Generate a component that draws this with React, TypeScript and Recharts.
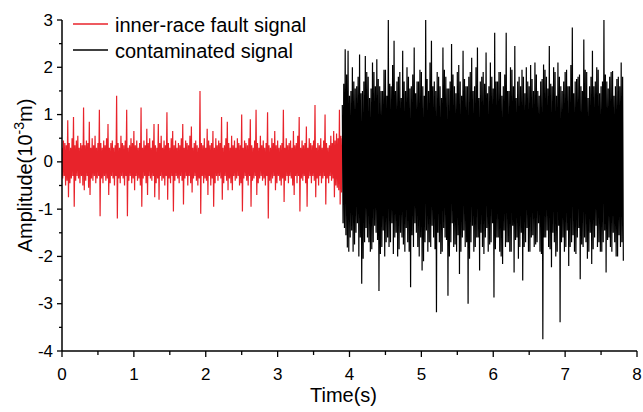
import React from 'react';
import { LineChart, Line, XAxis, YAxis, Legend } from 'recharts';

const SAMPLE_STEP = 0.01; // seconds between samples
const FAULT_START = 0; // s
const CONTAMINATED_START = 3.9; // s

const SERIES_NAMES = ['inner-race fault signal', 'contaminated signal'];
const SERIES_COLORS = ['#e8232b', '#000000'];

// inner-race fault signal (10^-3 m), 0 .. 3.90 s
const innerRaceFault = [
  0.3, -0.35, 0.45, -0.3, 0.4, -0.5, 0.35, -0.4, 0.88, -0.75,
  0.4, -0.45, 0.3, -0.35, 0.5, -0.3, 0.95, -0.95, 0.35, -0.4,
  0.45, -0.3, 0.55, -0.35, 0.3, -0.45, 0.4, -0.3, 0.35, -0.5,
  1.15, -0.6, 0.35, -0.4, 0.45, -0.3, 0.4, -0.55, 0.85, -0.7,
  0.3, -0.35, 0.5, -0.4, 0.35, -0.3, 0.55, -0.45, 0.3, -0.35,
  0.4, -0.3, 1.1, -1.15, 0.4, -0.35, 0.3, -0.45, 0.45, -0.3,
  0.35, -0.4, 0.5, -0.35, 0.8, -0.7, 0.3, -0.45, 0.4, -0.3,
  0.45, -0.35, 0.3, -0.5, 0.35, -0.3, 1.4, -1.2, 0.4, -0.35,
  0.3, -0.45, 0.55, -0.3, 0.4, -0.35, 0.35, -0.5, 0.45, -0.3,
  1.1, -1.15, 0.3, -0.4, 0.35, -0.3, 0.5, -0.45, 0.4, -0.35,
  0.65, -0.6, 0.35, -0.3, 0.45, -0.4, 0.3, -0.35, 0.4, -0.5,
  1.15, -0.95, 0.3, -0.35, 0.45, -0.3, 0.35, -0.45, 0.7, -0.7,
  0.4, -0.3, 0.5, -0.35, 0.3, -0.4, 0.45, -0.3, 0.8, -0.75,
  0.35, -0.45, 0.3, -0.35, 0.8, -0.8, 0.4, -0.3, 0.55, -0.4,
  0.3, -0.35, 0.45, -0.5, 0.35, -0.3, 1.05, -0.8, 0.4, -0.35,
  0.3, -0.45, 0.5, -0.3, 0.65, -1.05, 0.35, -0.4, 0.45, -0.3,
  0.3, -0.35, 0.4, -0.45, 0.35, -0.3, 0.5, -0.4, 0.8, -0.9,
  0.3, -0.35, 0.45, -0.3, 0.4, -0.5, 0.35, -0.3, 0.55, -0.45,
  0.75, -0.65, 0.3, -0.35, 0.4, -0.3, 0.45, -0.4, 0.35, -0.5,
  0.3, -0.35, 1.5, -1.1, 0.4, -0.3, 0.35, -0.45, 0.5, -0.35,
  0.3, -0.4, 0.7, -0.7, 0.45, -0.3, 0.35, -0.5, 0.4, -0.35,
  0.65, -0.95, 0.3, -0.45, 0.5, -0.3, 0.35, -0.4, 0.45, -0.3,
  0.4, -0.35, 0.95, -0.8, 0.3, -0.45, 0.35, -0.3, 0.5, -0.4,
  0.85, -0.6, 0.4, -0.35, 0.3, -0.45, 0.55, -0.6, 0.35, -0.3,
  0.45, -0.4, 0.3, -0.35, 0.5, -0.3, 0.4, -0.5, 0.35, -0.45,
  1.0, -1.05, 0.3, -0.35, 0.45, -0.3, 0.4, -0.4, 0.35, -0.5,
  0.5, -0.3, 0.9, -0.95, 0.35, -0.4, 0.3, -0.35, 0.45, -0.3,
  1.1, -0.7, 0.4, -0.45, 0.3, -0.35, 0.55, -0.3, 0.35, -0.4,
  0.45, -0.35, 0.3, -0.5, 0.4, -0.3, 1.05, -1.2, 0.35, -0.4,
  0.3, -0.45, 0.5, -0.35, 0.4, -0.3, 0.65, -0.6, 0.35, -0.45,
  0.45, -0.3, 0.3, -0.4, 0.35, -0.5, 0.4, -0.35, 1.1, -0.85,
  0.3, -0.4, 0.5, -0.3, 0.35, -0.45, 0.4, -0.3, 0.45, -0.35,
  0.3, -0.5, 0.65, -0.7, 0.35, -0.3, 0.4, -0.45, 0.55, -0.3,
  0.95, -1.05, 0.3, -0.35, 0.45, -0.4, 0.35, -0.3, 0.4, -0.45,
  0.75, -0.95, 0.3, -0.35, 0.5, -0.3, 0.4, -0.45, 0.35, -0.3,
  0.45, -0.4, 1.2, -0.75, 0.3, -0.35, 0.4, -0.5, 0.35, -0.3,
  0.5, -0.45, 0.3, -0.35, 0.45, -0.3, 1.0, -0.9, 0.4, -0.35,
  0.3, -0.45, 0.35, -0.3, 0.55, -0.4, 0.4, -0.35, 0.65, -0.75,
  0.45, -0.5, 0.6, -0.55, 0.5, -0.6, 1.1, -0.9, 0.55, -0.65,
  0.5,
];

// contaminated signal (10^-3 m), 3.90 .. 7.81 s
const contaminatedSignal = [
  1.2, -1.3, 1.65, -1.4, 2.38, -1.55, 1.85, -1.81, 2.35, -1.9, 1.4, -1.6,
  1.5, -1.45, 2.0, -1.9, 1.7, -1.75, 1.55, -1.5, 1.6, -1.3, 1.8, -2.0,
  2.27, -1.6, 1.45, -2.58, 1.5, -2.05, 1.7, -1.7, 2.24, -1.4, 1.9, -1.6,
  1.8, -1.7, 1.35, -1.9, 1.55, -1.85, 2.1, -1.7, 1.9, -1.35, 1.6, -1.5,
  2.17, -1.65, 1.75, -2.73, 1.6, -1.95, 1.5, -1.8, 1.5, -1.45, 1.95, -2.0,
  1.95, -1.7, 1.4, -1.6, 3.0, -1.8, 1.65, -1.7, 1.6, -1.3, 2.05, -1.95,
  2.56, -1.6, 1.5, -1.5, 1.7, -2.0, 1.8, -1.85, 1.9, -1.5, 1.35, -1.6,
  2.35, -1.75, 1.7, -1.9, 1.5, -1.4, 2.0, -1.7, 1.8, -1.9, 1.55, -2.65,
  1.6, -1.55, 1.85, -1.8, 2.42, -1.3, 1.45, -1.5, 1.7, -1.8, 1.7, -2.0,
  1.95, -1.6, 1.9, -2.3, 1.6, -2.1, 1.4, -1.7, 3.0, -1.45, 1.75, -1.9,
  1.5, -1.7, 2.1, -1.8, 2.56, -1.35, 1.6, -1.6, 1.7, -1.85, 1.5, -3.18,
  1.9, -1.5, 1.8, -1.7, 1.6, -1.95, 1.35, -1.9, 2.42, -1.4, 1.95, -1.6,
  1.8, -1.65, 1.55, -2.83, 1.55, -2.0, 1.7, -1.7, 2.49, -1.3, 1.85, -1.8,
  1.6, -1.75, 1.45, -1.9, 1.9, -1.55, 2.05, -2.37, 1.7, -1.9, 1.4, -1.6,
  2.35, -1.45, 1.75, -1.8, 1.6, -1.7, 1.6, -3.0, 1.8, -2.05, 1.9, -1.7,
  2.2, -1.35, 1.5, -1.9, 1.6, -1.8, 2.0, -1.6, 2.42, -1.6, 1.35, -2.3,
  1.7, -1.5, 1.8, -1.8, 1.9, -1.95, 1.65, -1.6, 2.31, -1.4, 1.45, -1.9,
  1.6, -1.75, 2.1, -1.7, 1.8, -1.3, 1.55, -2.87, 2.73, -1.85, 1.7, -1.6,
  1.7, -1.6, 1.9, -1.9, 1.9, -2.0, 1.4, -2.16, 1.6, -1.45, 1.85, -1.8,
  2.73, -1.7, 1.5, -1.7, 1.5, -1.9, 2.0, -1.9, 1.95, -1.35, 1.6, -2.34,
  2.45, -1.65, 1.35, -1.6, 1.7, -2.05, 1.8, -1.8, 1.6, -1.5, 1.95, -2.51,
  1.8, -1.8, 1.45, -1.7, 2.0, -1.4, 1.7, -1.9, 1.6, -1.9, 2.05, -1.6,
  1.75, -1.55, 1.5, -1.8, 2.1, -1.75, 1.85, -1.7, 1.5, -1.3, 1.4, -1.9,
  1.7, -1.95, 1.75, -3.75, 2.06, -1.6, 1.95, -1.6, 1.8, -1.45, 1.55, -1.8,
  2.45, -1.85, 1.65, -2.23, 1.6, -1.5, 2.0, -1.7, 1.9, -2.0, 1.4, -1.9,
  2.1, -1.35, 1.8, -3.39, 1.6, -1.7, 1.5, -1.6, 1.7, -1.9, 1.9, -1.8,
  1.95, -1.45, 1.6, -2.2, 1.6, -1.8, 2.05, -1.7, 2.84, -1.55, 1.45, -1.9,
  1.7, -1.95, 1.75, -1.6, 1.8, -1.4, 1.85, -2.48, 1.6, -1.75, 1.5, -1.8,
  2.59, -1.6, 1.95, -1.7, 1.9, -2.05, 1.35, -1.9, 1.6, -1.5, 1.8, -2.16,
  2.35, -1.85, 1.6, -1.6, 1.7, -1.35, 2.0, -1.8, 1.95, -1.7, 1.45, -1.9,
  1.6, -1.9, 1.7, -1.7, 3.0, -1.45, 1.85, -2.34, 1.7, -1.65, 1.55, -1.6,
  1.8, -1.8, 1.9, -1.9, 1.92, -1.5, 1.4, -1.7, 1.6, -2.0, 1.75, -2.0,
  1.8, -1.55, 1.6, -1.8, 2.1, -1.7, 1.8, -2.09,
];

const X_TICKS = [0, 0.5, 1, 1.5, 2, 2.5, 3, 3.5, 4, 4.5, 5, 5.5, 6, 6.5, 7, 7.5, 8];
const Y_TICKS = [-4, -3.5, -3, -2.5, -2, -1.5, -1, -0.5, 0, 0.5, 1, 1.5, 2, 2.5, 3];

// Build the table used by the chart, on the common sampling grid
const rows: any[] = [];
const put = (k: number, key: string, v: number) => {
  rows[k] = { ...(rows[k] || { t: +(k * SAMPLE_STEP).toFixed(2) }), [key]: v };
};
const faultOffset = Math.round(FAULT_START / SAMPLE_STEP);
innerRaceFault.forEach((v, i) => put(faultOffset + i, 'fault', v));
const contOffset = Math.round(CONTAMINATED_START / SAMPLE_STEP);
contaminatedSignal.forEach((v, i) => put(contOffset + i, 'contaminated', v));
const chartData = rows.filter(Boolean);

const FONT = '"Liberation Sans", Arial, Helvetica, sans-serif';

const isMajor = (v: number) => Math.abs(v - Math.round(v)) < 1e-6;

const XTick = (props: any) => {
  const { x, y, payload } = props;
  const v = payload.value;
  const major = isMajor(v);
  return (
    <g>
      <line x1={x} x2={x} y1={y} y2={y + (major ? 6 : 4)} stroke="#000" strokeWidth={1.3} />
      {major && (
        <text x={x} y={y + 23} textAnchor="middle" dominantBaseline="central" fontSize={17} fontFamily={FONT} fill="#000">
          {String(v)}
        </text>
      )}
    </g>
  );
};

const YTick = (props: any) => {
  const { x, y, payload } = props;
  const v = payload.value;
  const major = isMajor(v);
  return (
    <g>
      <line x1={x - (major ? 5 : 3)} x2={x} y1={y} y2={y} stroke="#000" strokeWidth={1.3} />
      {major && (
        <text x={x - 9} y={y} textAnchor="end" dominantBaseline="central" fontSize={17} fontFamily={FONT} fill="#000">
          {String(v)}
        </text>
      )}
    </g>
  );
};

const XTitle = (props: any) => {
  const vb = props.viewBox || { x: 62, y: 351, width: 575, height: 61 };
  return (
    <text x={vb.x + vb.width / 2 - 6} y={vb.y + 51} textAnchor="middle" fontSize={20} fontFamily={FONT} fill="#000">
      Time(s)
    </text>
  );
};

const YTitle = (props: any) => {
  const vb = props.viewBox || { x: 0, y: 20, width: 62, height: 331 };
  const cy = vb.y + vb.height / 2 - 10;
  return (
    <text transform={`translate(32, ${cy}) rotate(-90)`} textAnchor="middle" fontSize={20} fontFamily={FONT} fill="#000">
      <tspan>Amplitude(10</tspan>
      <tspan dy={-8} fontSize={14}>-3</tspan>
      <tspan dy={8}>m)</tspan>
    </text>
  );
};

const renderLegend = () => (
  <svg width={330} height={62} style={{ display: 'block' }}>
    {SERIES_NAMES.map((name, i) => (
      <g key={name}>
        <line x1={73} x2={108} y1={24 + i * 26} y2={24 + i * 26} stroke={SERIES_COLORS[i]} strokeWidth={1.5} />
        <text x={115} y={25 + i * 26} dominantBaseline="central" fontSize={20} fontFamily={FONT} fill="#000">
          {name}
        </text>
      </g>
    ))}
  </svg>
);

export default function App() {
  return (
    <div style={{ position: 'absolute', left: 0, top: 0, width: 643, height: 412, background: '#fff' }}>
      <LineChart width={643} height={412} data={chartData} margin={{ top: 20, right: 6, bottom: 0, left: 0 }}>
        <XAxis
          dataKey="t"
          type="number"
          domain={[0, 8]}
          allowDataOverflow
          ticks={X_TICKS}
          interval={0}
          height={61}
          tickSize={0}
          tickMargin={0}
          tickLine={false}
          tick={<XTick />}
          axisLine={{ stroke: '#000', strokeWidth: 1.5 }}
          label={<XTitle />}
        />
        <YAxis
          type="number"
          domain={[-4, 3]}
          allowDataOverflow
          ticks={Y_TICKS}
          interval={0}
          width={62}
          tickSize={0}
          tickMargin={0}
          tickLine={false}
          tick={<YTick />}
          axisLine={{ stroke: '#000', strokeWidth: 1.5 }}
          label={<YTitle />}
        />
        <Legend
          layout="horizontal"
          align="center"
          verticalAlign="middle"
          content={renderLegend}
          wrapperStyle={{ left: 0, top: 0, width: 330, height: 62 }}
        />
        <Line
          type="linear"
          dataKey="fault"
          name={SERIES_NAMES[0]}
          stroke={SERIES_COLORS[0]}
          strokeWidth={1.2}
          dot={false}
          activeDot={false}
          connectNulls
          isAnimationActive={false}
        />
        <Line
          type="linear"
          dataKey="contaminated"
          name={SERIES_NAMES[1]}
          stroke={SERIES_COLORS[1]}
          strokeWidth={1.2}
          dot={false}
          activeDot={false}
          connectNulls
          isAnimationActive={false}
        />
      </LineChart>
    </div>
  );
}
